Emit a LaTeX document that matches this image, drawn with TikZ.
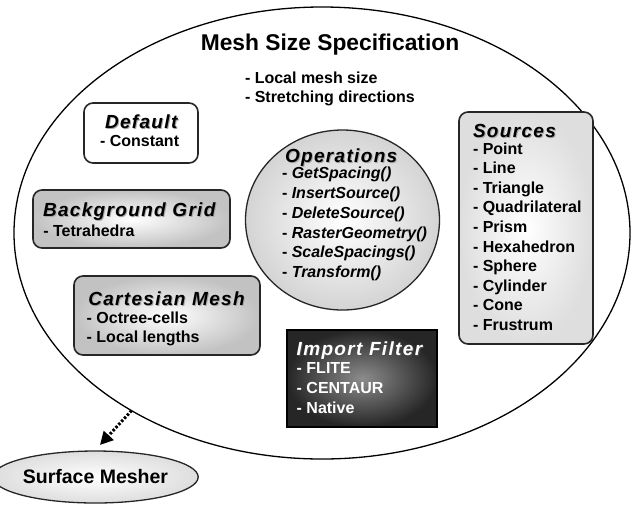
\documentclass[tikz,border=0pt]{standalone}
\usepackage{fontspec}
\setmainfont{Liberation Sans}
\newfontfamily\headfont{Liberation Sans}[LetterSpace=7]
\usetikzlibrary{shapes.geometric,arrows.meta}
\begin{document}
\begin{tikzpicture}[x=1pt,y=-1pt,
  every node/.style={inner sep=0pt, outer sep=0pt},
  item/.style={anchor=base west, font=\bfseries\fontsize{16}{19}\selectfont},
  head/.style={anchor=base west, font=\headfont\bfseries\itshape\fontsize{19}{22}\selectfont},
  headshadow/.style={head, text=black!35},
  box/.style={draw=black!85, line width=1.6pt, rounded corners=9pt},
  greyfill/.style={inner color=white, outer color=black!24},
  opsfill/.style={inner color=white, outer color=black!17},
  lightfill/.style={inner color=white, outer color=black!13},
  dotarrow/.style={line width=3pt, dash pattern=on 2.4pt off 1.8pt, -{Triangle[length=13pt,width=13pt]}},
]
\useasboundingbox (0,0) rectangle (631,504);

% main ellipse
\node[ellipse, draw, line width=1.3pt, fill=white, minimum width=616, minimum height=452] (main) at (322,233) {};
\node[anchor=base, font=\bfseries\fontsize{22.8}{26}\selectfont] (title) at (330,50) {Mesh Size Specification};
\node[item] (lm1) at (245,83) {- Local mesh size};
\node[item] (lm2) at (245,102) {- Stretching directions};

% Default
\node[box, fill=white, minimum width=114, minimum height=60] (def) at (141,133) {};
\node[headshadow] (defhs) at (106,129.2) {Default};
\node[head] (defh) at (105,128) {Default};
\node[item] (def1) at (100,146.3) {- Constant};

% Background Grid
\node[box, greyfill, minimum width=197, minimum height=58] (bg) at (131.5,219) {};
\node[headshadow] (bghs) at (44,217.9) {Background Grid};
\node[head] (bgh) at (43,216.7) {Background Grid};
\node[item] (bg1) at (43.3,236.7) {- Tetrahedra};

% Cartesian Mesh
\node[box, greyfill, minimum width=186, minimum height=79] (cart) at (167,315.5) {};
\node[headshadow] (carths) at (89.3,306.5) {Cartesian Mesh};
\node[head] (carth) at (88.3,305.3) {Cartesian Mesh};
\node[item] (cart1) at (86.7,323.7) {- Octree-cells};
\node[item] (cart2) at (86.7,342.7) {- Local lengths};

% Operations
\node[ellipse, draw=black!85, line width=1.3pt, opsfill, minimum width=194, minimum height=180] (ops) at (342.5,220) {};
\node[headshadow] (opshs) at (286,163.2) {Operations};
\node[head] (opsh) at (285,162) {Operations};
\foreach \t [count=\i from 0] in {GetSpacing(), InsertSource(), DeleteSource(), RasterGeometry(), ScaleSpacings(), Transform()}
  \node[item] (ops\i) at (282,178.7+19.8*\i) {- {\itshape \t}};

% Sources
\node[box, lightfill, minimum width=134, minimum height=232] (src) at (526,228) {};
\node[headshadow] (srchs) at (474,138.2) {Sources};
\node[head] (srch) at (473,137) {Sources};
\foreach \t [count=\i from 0] in {Point, Line, Triangle, Quadrilateral, Prism, Hexahedron, Sphere, Cylinder, Cone, Frustrum}
  \node[item] (src\i) at (473,154+19.6*\i) {- \t};

% Import Filter
\node[draw=black, line width=1.6pt, inner color=black!45, outer color=black!85, minimum width=150, minimum height=97] (imp) at (362,378.5) {};
\node[headshadow, text=black!70] (imphs) at (297.7,356.2) {Import Filter};
\node[head, text=white] (imph) at (296.7,355) {Import Filter};
\node[item, text=white] (imp1) at (296.7,373.3) {- FLITE};
\node[item, text=white] (imp2) at (296.7,393.3) {- CENTAUR};
\node[item, text=white] (imp3) at (296.7,413.3) {- Native};

% Surface Mesher
\node[ellipse, draw=black!85, line width=1.3pt, lightfill, minimum width=165, minimum height=52,
      font=\bfseries\fontsize{19.5}{22}\selectfont] (surf) at (95.5,477) {Surface Mesher};

\coordinate (tip) at (100,445);
\draw[dotarrow] (main.223) -- (tip);
\end{tikzpicture}
\end{document}
